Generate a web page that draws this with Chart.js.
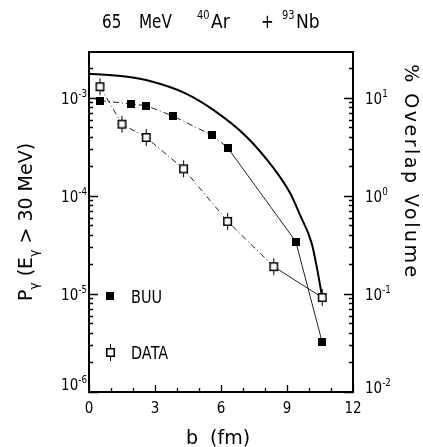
<!DOCTYPE html>
<html>
<head>
<meta charset="utf-8">
<script src="https://cdn.jsdelivr.net/npm/chart.js@4"></script>
<style>
  html, body { margin: 0; padding: 0; background: #fff; }
  canvas { display: block; }
</style>
</head>
<body>
<canvas id="gammaChart" width="423" height="447"></canvas>
<script>
const dataB = [0.5, 1.5, 2.6, 4.3, 6.3, 8.4, 10.6];
const dataP = [1.30e-3, 5.4e-4, 3.95e-4, 1.89e-4, 5.5e-5, 1.9e-5, 9.2e-6];
const buuB = [0.5, 1.9, 2.6, 3.8, 5.6, 6.3, 9.4, 10.6];
const buuP = [9.4e-4, 8.7e-4, 8.35e-4, 6.55e-4, 4.16e-4, 3.11e-4, 3.42e-5, 3.21e-6];
const overlapB = [0, 1.64, 2.85, 4.36, 5.65, 7.17, 8.38, 9.14, 9.59, 10.12, 10.35, 10.58];
const overlapPct = [17.6, 16.5, 14.7, 11.2, 7.55, 4.0, 1.93, 1.07, 0.64, 0.33, 0.19, 0.098];
const xTickLabels = [0, 3, 6, 9, 12];
const leftDecades = [-6, -5, -4, -3];
const rightDecades = [-2, -1, 0, 1];

const FONT = '"DejaVu Sans", sans-serif';

// marker images
const buuImg = document.createElement('canvas');
buuImg.width = 8; buuImg.height = 8;
(function () {
    const c = buuImg.getContext('2d');
    c.fillStyle = '#000';
    c.fillRect(0, 0, 8, 8);
})();

const dataImg = document.createElement('canvas');
dataImg.width = 11; dataImg.height = 19;
(function () {
    const c = dataImg.getContext('2d');
    c.fillStyle = '#fff';
    c.fillRect(1, 5, 9, 9);
    c.strokeStyle = '#000';
    c.lineWidth = 1.5;
    c.strokeRect(1.75, 5.75, 7.5, 7.5);
    c.lineWidth = 1;
    c.beginPath();
    c.moveTo(5.5, 1); c.lineTo(5.5, 5);
    c.moveTo(5.5, 14); c.lineTo(5.5, 18);
    c.stroke();
})();

// text with super/subscripts
function drawRich(ctx, parts, x, y, size, align, sx) {
    ctx.save();
    ctx.translate(x, y);
    ctx.scale(sx || 1, 1);
    ctx.textAlign = 'left';
    ctx.textBaseline = 'alphabetic';
    ctx.fillStyle = '#000';
    let w = 0;
    parts.forEach(p => {
        ctx.font = (p[1] ? size * 0.65 : size) + 'px ' + FONT;
        w += ctx.measureText(p[0]).width;
    });
    let cx = align === 'center' ? -w / 2 : align === 'right' ? -w : 0;
    parts.forEach(p => {
        ctx.font = (p[1] ? size * 0.65 : size) + 'px ' + FONT;
        const dy = p[1] === 'sup' ? -size * 0.45 : p[1] === 'sub' ? size * 0.3 : 0;
        ctx.fillText(p[0], cx, dy);
        cx += ctx.measureText(p[0]).width;
    });
    ctx.restore();
}

const framePlugin = {
    id: 'frame',
    afterDraw(chart) {
        const ctx = chart.ctx;
        const a = chart.chartArea;
        const sx = chart.scales.x, sy = chart.scales.y, sy1 = chart.scales.y1;
        ctx.save();
        ctx.strokeStyle = '#000';

        // frame
        ctx.lineWidth = 2;
        ctx.strokeRect(a.left, a.top, a.right - a.left, a.bottom - a.top);

        // inward ticks
        ctx.lineWidth = 1.3;
        ctx.beginPath();
        for (let b = 0; b <= 12; b++) {
            const px = Math.round(sx.getPixelForValue(b)) + 0.5;
            const len = b % 3 === 0 ? 7 : 4;
            ctx.moveTo(px, a.bottom); ctx.lineTo(px, a.bottom - len);
        }
        function logTicks(scale, decades, edge, dir) {
            const lo = decades[0], hi = decades[decades.length - 1] + 1;
            for (let d = lo; d <= hi; d++) {
                for (let m = 1; m <= 9; m++) {
                    const v = m * Math.pow(10, d);
                    if (v < scale.min * 0.999 || v > scale.max) continue;
                    const py = Math.round(scale.getPixelForValue(v)) + 0.5;
                    const len = m === 1 ? 9 : 4;
                    ctx.moveTo(edge, py); ctx.lineTo(edge + dir * len, py);
                }
            }
        }
        logTicks(sy, leftDecades, a.left, 1);
        logTicks(sy1, rightDecades, a.right, -1);
        ctx.stroke();

        // tick labels
        xTickLabels.forEach(b => {
            drawRich(ctx, [[String(b)]], sx.getPixelForValue(b), 413, 15, 'center', 0.9);
        });
        leftDecades.forEach(d => {
            const py = Math.min(sy.getPixelForValue(Math.pow(10, d)), a.bottom - 8);
            drawRich(ctx, [['10'], [String(d), 'sup']], a.left - 2, py + 6, 15, 'right', 0.9);
        });
        rightDecades.forEach(d => {
            const py = Math.min(sy1.getPixelForValue(Math.pow(10, d)), a.bottom - 5);
            drawRich(ctx, [['10'], [String(d), 'sup']], a.right + 12, py + 6, 15, 'left', 0.9);
        });

        // title
        drawRich(ctx, [['65']], 102, 28, 19, 'left', 0.8);
        drawRich(ctx, [['MeV']], 139, 28, 19, 'left', 0.8);
        drawRich(ctx, [['40', 'sup']], 197, 28, 19, 'left', 0.8);
        drawRich(ctx, [['Ar']], 211, 28, 19, 'left', 0.9);
        drawRich(ctx, [['+']], 261, 28, 19, 'left', 0.8);
        drawRich(ctx, [['93', 'sup']], 282, 28, 19, 'left', 0.8);
        drawRich(ctx, [['Nb']], 296, 28, 19, 'left', 0.9);

        // x title
        drawRich(ctx, [['b  (fm)']], 218, 444, 19, 'center', 1);

        // left title
        ctx.save();
        ctx.translate(32, 222);
        ctx.rotate(-Math.PI / 2);
        drawRich(ctx, [['P'], ['\u03b3', 'sub'], [' (E'], ['\u03b3', 'sub'], [' > 30 MeV)']], 0, 0, 19, 'center', 1);
        ctx.restore();

        // right title
        ctx.save();
        ctx.translate(405, 172);
        ctx.rotate(Math.PI / 2);
        ctx.letterSpacing = '2.5px';
        drawRich(ctx, [['% Overlap Volume']], 0, 0, 19, 'center', 1);
        ctx.restore();

        // legend
        ctx.drawImage(buuImg, 106, 292);
        drawRich(ctx, [['BUU']], 131, 303, 17, 'left', 0.85);
        ctx.drawImage(dataImg, 105, 343);
        drawRich(ctx, [['DATA']], 131, 359, 17, 'left', 0.85);

        ctx.restore();
    }
};

function pts(xs, ys) {
    return xs.map((x, i) => ({ x: x, y: ys[i] }));
}

const dashDot = [6, 3, 1, 3];

new Chart(document.getElementById('gammaChart').getContext('2d'), {
    type: 'scatter',
    data: {
        datasets: [{
            label: 'BUU',
            data: pts(buuB, buuP),
            yAxisID: 'y',
            showLine: true,
            borderColor: '#222',
            borderWidth: 1,
            pointStyle: buuImg,
            segment: { borderDash: c => c.p0DataIndex >= 5 ? [] : dashDot }
        }, {
            label: 'DATA',
            data: pts(dataB, dataP),
            yAxisID: 'y',
            showLine: true,
            borderColor: '#222',
            borderWidth: 1,
            pointStyle: dataImg,
            segment: { borderDash: c => c.p0DataIndex >= 5 ? [] : dashDot }
        }, {
            label: 'Overlap',
            data: pts(overlapB, overlapPct),
            yAxisID: 'y1',
            showLine: true,
            borderColor: '#000',
            borderWidth: 2,
            pointRadius: 0,
            cubicInterpolationMode: 'monotone'
        }]
    },
    options: {
        responsive: false,
        animation: false,
        layout: { padding: { top: 52, left: 0, right: 0, bottom: 0 } },
        plugins: {
            legend: { display: false },
            tooltip: { enabled: false }
        },
        scales: {
            x: {
                type: 'linear', min: 0, max: 12,
                ticks: { display: false },
                grid: { display: false },
                border: { display: false },
                afterFit: s => { s.height = 55; }
            },
            y: {
                type: 'logarithmic', position: 'left',
                min: 1e-6, max: 2.94e-3,
                ticks: { display: false },
                grid: { display: false },
                border: { display: false },
                afterFit: s => { s.width = 89; }
            },
            y1: {
                type: 'logarithmic', position: 'right',
                min: 1e-2, max: 29.4,
                ticks: { display: false },
                grid: { display: false },
                border: { display: false },
                afterFit: s => { s.width = 70; }
            }
        }
    },
    plugins: [framePlugin]
});
</script>
</body>
</html>
